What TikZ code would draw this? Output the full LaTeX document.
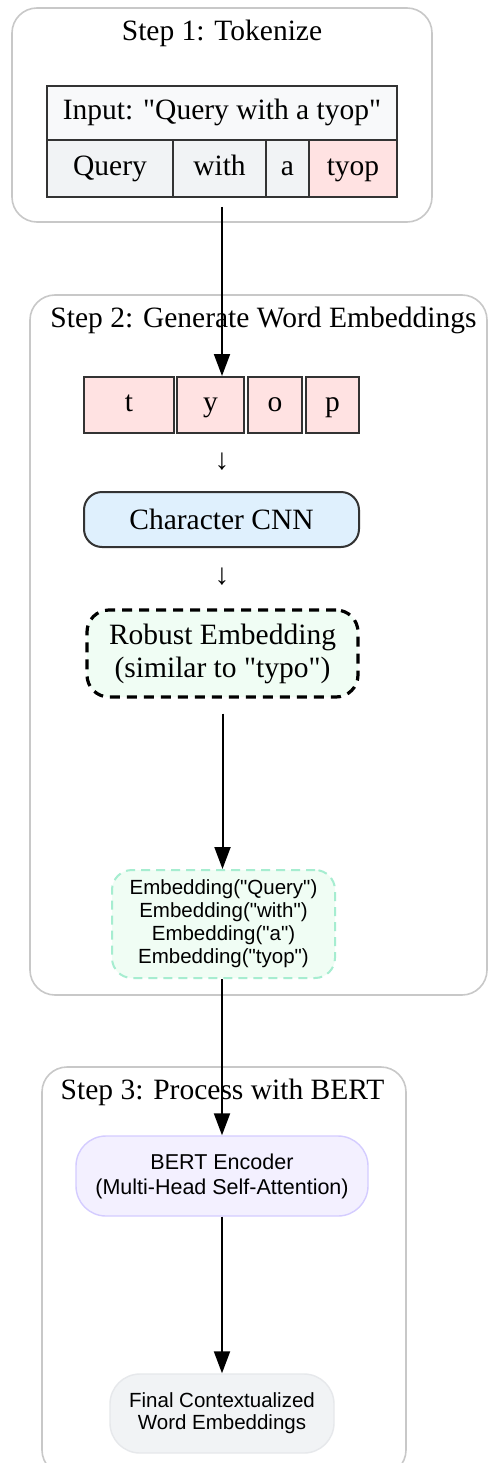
\documentclass[tikz,border=0pt]{standalone}
\usepackage{fontspec}
\setmainfont{Liberation Serif}[Ligatures=TeXOff]
\setsansfont{Liberation Sans}[Ligatures=TeXOff]
\usetikzlibrary{arrows.meta}

\definecolor{clusterline}{HTML}{C8C8C8}
\definecolor{ink}{HTML}{333333}
\definecolor{headfill}{HTML}{F8F9FA}
\definecolor{cellfill}{HTML}{F1F3F5}
\definecolor{typofill}{HTML}{FFE2E2}
\definecolor{cnnfill}{HTML}{DFF0FD}
\definecolor{robustfill}{HTML}{F0FDF4}
\definecolor{embline}{HTML}{A6EDD0}
\definecolor{bertfill}{HTML}{F3F0FF}
\definecolor{bertline}{HTML}{D4CCFF}
\definecolor{finalline}{HTML}{E6E8EB}

\begin{document}
\begin{tikzpicture}[x=1pt, y=-1pt,
  serif/.style={font=\fontsize{29.5}{33}\selectfont},
  sans/.style={font=\sffamily\fontsize{20.5}{23}\selectfont},
  cluster/.style={draw=clusterline, line width=1.6pt, rounded corners=25pt, fill=white, inner sep=0pt},
  title/.style={serif, inner sep=0pt},
  cell/.style={draw=ink, line width=2pt, serif, inner sep=0pt, minimum height=57,
               text height=20pt, text depth=6.5pt},
  charbox/.style={draw=ink, line width=2pt, fill=typofill, serif, inner sep=0pt, minimum height=56,
                  text height=20pt, text depth=6.5pt},
  smallarrow/.style={font=\fontsize{29.5}{33}\selectfont, inner sep=0pt},
  flow/.style={draw=black, line width=2pt, -{Triangle[length=22pt, width=16pt]}}
]
\useasboundingbox (0,0) rectangle (488,1463);
\clip (0,0) rectangle (488,1463);

% ---- Step 1: tokenization ----
\node[cluster, minimum width=420, minimum height=214] (c1) at (222,115) {};
\node[title] (t1) at (222,33) {Step 1: Tokenize};
\node[cell, fill=headfill, minimum width=350, minimum height=54] (input) at (222,113) {Input: "Query with a tyop"};
\node[cell, fill=cellfill, minimum width=126] (wq) at (110,168.5) {Query};
\node[cell, fill=cellfill, minimum width=93] (ww) at (219.5,168.5) {with};
\node[cell, fill=cellfill, minimum width=43] (wa) at (287.5,168.5) {a};
\node[cell, fill=typofill, minimum width=88] (wt) at (353,168.5) {tyop};
\coordinate (tokout) at (222,207);

% ---- Step 2: word embeddings ----
\node[cluster, minimum width=457, minimum height=700] (c2) at (258.5,645) {};
\node[title] (t2) at (263.5,320) {Step 2: Generate Word Embeddings};
\node[charbox, minimum width=90] (ct) at (129,405) {t};
\node[charbox, minimum width=67] (cy) at (210.5,405) {y};
\node[charbox, minimum width=54] (co) at (275,405) {o};
\node[charbox, minimum width=53] (cp) at (332.5,405) {p};
\node[smallarrow] (d1) at (222,462) {↓};
\node[draw=ink, line width=2pt, fill=cnnfill, rounded corners=18pt, serif, inner sep=0pt,
      minimum width=275, minimum height=55] (cnn) at (221.5,519.5) {Character CNN};
\node[smallarrow] (d2) at (222,577) {↓};
\node[draw=black, line width=3.2pt, dash pattern=on 10pt off 7pt, fill=robustfill, rounded corners=22pt,
      serif, align=center, inner sep=0pt, minimum width=271, minimum height=87] (robust) at (222.5,653.5)
      {Robust Embedding\\(similar to "typo")};
\node[draw=embline, line width=2pt, dash pattern=on 9pt off 6pt, fill=robustfill, rounded corners=20pt,
      sans, align=center, inner sep=0pt, minimum width=223, minimum height=108] (emb) at (223.5,924)
      {Embedding("Query")\\Embedding("with")\\Embedding("a")\\Embedding("tyop")};

% ---- Step 3: BERT ----
\node[cluster, minimum width=364, minimum height=408] (c3) at (224,1271) {};
\node[title] (t3) at (222.5,1092) {Step 3: Process with BERT};
\node[draw=bertline, line width=1.4pt, fill=bertfill, rounded corners=30pt, align=center,
      font=\sffamily\fontsize{21.5}{25}\selectfont, inner sep=0pt,
      minimum width=292, minimum height=80] (bert) at (222,1176)
      {BERT Encoder\\(Multi-Head Self-Attention)};
\node[draw=finalline, line width=1.4pt, fill=cellfill, rounded corners=30pt, align=center,
      font=\sffamily\fontsize{20.5}{22}\selectfont, inner sep=0pt,
      minimum width=224, minimum height=79] (final) at (222,1413.5)
      {Final Contextualized\\Word Embeddings};

% ---- connectors ----
\draw[flow] (tokout) -- (cy.north -| tokout);
\draw[flow, shorten <=15pt] (robust.south) -- (emb.north -| robust.south);
\draw[flow] (emb.south -| bert.north) -- (bert.north);
\draw[flow] (bert.south) -- (final.north);
\end{tikzpicture}
\end{document}
